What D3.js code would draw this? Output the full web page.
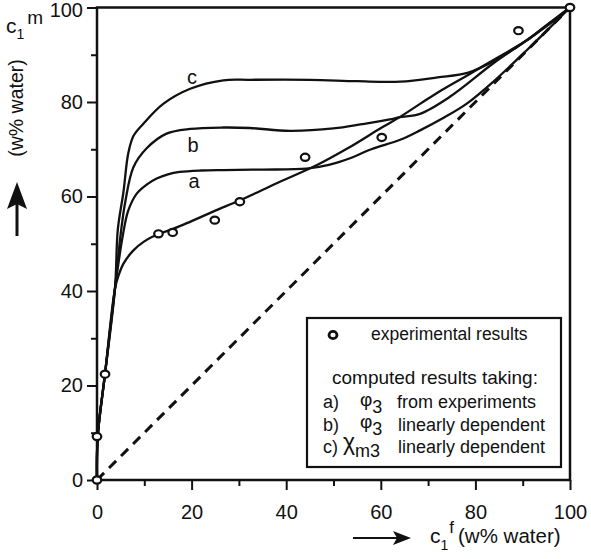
<!DOCTYPE html>
<html>
<head>
<meta charset="utf-8">
<script src="https://cdn.jsdelivr.net/npm/d3@7"></script>
<style>
  html, body { margin: 0; padding: 0; background: #fff; }
  svg { display: block; font-family: "Liberation Sans", Arial, Helvetica, sans-serif; }
</style>
</head>
<body>
<svg id="chart" width="591" height="559"></svg>
<script>
// Experimental points: water content in feed (x) vs membrane (y), w% water
const expX = [0, 0, 1.7, 13.0, 16.0, 24.9, 30.2, 44.0, 60.2, 89.1, 100];
const expY = [0, 9.2, 22.4, 52.1, 52.4, 55.0, 58.9, 68.3, 72.5, 95.1, 100];

// Curve drawn through the experimental results
const fitX = [0, 0.15, 1.7, 3.8, 4.6, 5.6, 7.7, 10, 12.6, 16, 20, 25, 30.2, 38, 46.4, 53, 60.2, 64, 68.3, 73, 78.9, 85, 90.8, 95, 100];
const fitY = [0, 9.2, 22.5, 40.5, 43.4, 45.8, 48.6, 50.5, 51.9, 53.1, 54.8, 57, 59.2, 62.8, 66.6, 70.2, 74.6, 76.8, 79.6, 82.6, 86, 89.6, 93, 96.2, 100];

// a) phi3 from experiments
const aX = [0, 0.15, 1.7, 3.8, 5.5, 6.6, 8.4, 10.5, 12.6, 15, 17.5, 22, 26.7, 35, 44.3, 49, 53.5, 58, 64.1, 68.3, 73, 78.1, 84, 90.8, 95, 100];
const aY = [0, 9.2, 22.5, 40.5, 52, 57, 60.6, 62.5, 63.8, 64.7, 65.2, 65.5, 65.6, 65.7, 65.9, 66.7, 68.1, 70, 72, 74, 76.5, 79.6, 84.5, 90.9, 95, 100];

// b) phi3 linearly dependent
const bX = [0, 0.15, 1.7, 3.8, 5, 6, 7.7, 10.5, 14.7, 19.7, 26.7, 32.3, 40.8, 50, 56, 61.9, 64, 68.3, 74.6, 83.8, 90, 95, 100];
const bY = [0, 9.2, 22.5, 40.5, 52, 59, 66.2, 70.2, 73.3, 74.3, 74.6, 74.5, 73.9, 74.4, 75.3, 76.3, 76.8, 77.5, 81.1, 88.2, 92.5, 96, 100];

// c) chi_m3 linearly dependent
const cX = [0, 0.15, 1.7, 3.8, 4.4, 5.6, 6.6, 7.7, 9.8, 14, 19.7, 26.7, 32.3, 45, 55, 64.1, 72, 78.5, 85, 90.8, 95, 100];
const cY = [0, 9.2, 22.5, 40.5, 53, 61, 69.1, 72.8, 75.4, 79.6, 82.8, 84.6, 84.7, 84.7, 84.4, 84.3, 85.2, 86.2, 89.3, 93, 96.2, 100];

// Axis ticks
const majorTicks = [0, 20, 40, 60, 80, 100];
const minorTicks = [10, 30, 50, 70, 90];

// Curve labels
const curveLabels = ["a", "b", "c"];
const labelX = [20.5, 20.3, 20.1];
const labelY = [61.8, 69.4, 83.8];

const svg = d3.select("#chart");
const x = d3.scaleLinear().domain([0, 100]).range([97, 570]);
const y = d3.scaleLinear().domain([0, 100]).range([480, 7.5]);

const ink = "#111";

// Axes
const gx = svg.append("g").attr("transform", `translate(0,${y(0)})`)
  .call(d3.axisBottom(x).tickValues(majorTicks).tickSize(10).tickPadding(15).tickFormat(d3.format("d")));
const gxm = svg.append("g").attr("transform", `translate(0,${y(0)})`)
  .call(d3.axisBottom(x).tickValues(minorTicks).tickSize(6).tickFormat(""));
const gy = svg.append("g").attr("transform", `translate(${x(0)},0)`)
  .call(d3.axisLeft(y).tickValues(majorTicks).tickSize(10).tickPadding(4).tickFormat(d3.format("d")));
const gym = svg.append("g").attr("transform", `translate(${x(0)},0)`)
  .call(d3.axisLeft(y).tickValues(minorTicks).tickSize(6).tickFormat(""));

[gx, gxm, gy, gym].forEach(g => {
  g.select(".domain").remove();
  g.selectAll("line").attr("stroke", ink).attr("stroke-width", 2);
  g.selectAll("text").attr("fill", ink).attr("font-size", 20)
    .attr("font-family", "'Liberation Sans', Arial, sans-serif");
});
// keep the top label inside the page
gy.selectAll(".tick").filter(d => d === 100).select("text").attr("dy", "0.45em");

// Frame
svg.append("rect")
  .attr("x", x(0)).attr("y", y(100))
  .attr("width", x(100) - x(0)).attr("height", y(0) - y(100))
  .attr("fill", "none").attr("stroke", ink).attr("stroke-width", 2.5);

// Diagonal reference line
svg.append("line")
  .attr("x1", x(0)).attr("y1", y(0)).attr("x2", x(100)).attr("y2", y(100))
  .attr("stroke", ink).attr("stroke-width", 3).attr("stroke-dasharray", "10,7");

// Curves
const line = d3.line().x(d => x(d[0])).y(d => y(d[1])).curve(d3.curveCatmullRom.alpha(0.5));
const series = [
  [fitX, fitY], [aX, aY], [bX, bY], [cX, cY]
];
series.forEach(([xs, ys]) => {
  svg.append("path")
    .datum(xs.map((v, i) => [v, ys[i]]))
    .attr("d", line)
    .attr("fill", "none").attr("stroke", ink).attr("stroke-width", 2.3)
    .attr("stroke-linejoin", "round");
});

// Curve labels
curveLabels.forEach((t, i) => {
  svg.append("text").attr("x", x(labelX[i])).attr("y", y(labelY[i]))
    .attr("text-anchor", "middle").attr("font-size", 20).attr("fill", ink).text(t);
});

// Experimental points
svg.append("g").selectAll("ellipse")
  .data(expX.map((v, i) => [v, expY[i]]))
  .join("ellipse")
  .attr("cx", d => x(d[0])).attr("cy", d => y(d[1]))
  .attr("rx", 4.3).attr("ry", 3.6)
  .attr("fill", "#fff").attr("stroke", ink).attr("stroke-width", 2.2);

// Legend
const lg = svg.append("g");
lg.append("rect").attr("x", 307).attr("y", 318).attr("width", 254).attr("height", 149)
  .attr("fill", "#fff").attr("stroke", ink).attr("stroke-width", 2.2);
lg.append("ellipse").attr("cx", 333).attr("cy", 335).attr("rx", 4).attr("ry", 3.6)
  .attr("fill", "#fff").attr("stroke", ink).attr("stroke-width", 2.8);
const lt = (xp, yp, s, fs) => lg.append("text").attr("x", xp).attr("y", yp)
  .attr("font-size", fs || 18).attr("fill", ink).text(s);
lt(371, 340, "experimental results", 17.5);
lt(332, 384, "computed results taking:", 19);
lt(323, 408, "a)");
lt(323, 431, "b)");
lt(323, 453, "c)");
const greek = (xp, yp, g, sub, fs) => {
  const t = lg.append("text").attr("x", xp).attr("y", yp).attr("font-size", fs).attr("fill", ink);
  t.append("tspan").text(g);
  t.append("tspan").attr("dy", 7).attr("font-size", 18).text(sub);
};
greek(360, 406, "φ", "3", 19);
greek(360, 428, "φ", "3", 19);
greek(343, 450, "χ", "m3", 23);
lt(397, 408, "from experiments");
lt(398, 431, "linearly dependent");
lt(398, 453, "linearly dependent");

// Y axis title: c1^m, (w% water), upward arrow
const yt = svg.append("text").attr("x", 6).attr("y", 33).attr("font-size", 21).attr("fill", ink);
yt.append("tspan").text("c");
yt.append("tspan").attr("dy", 6).attr("font-size", 14).text("1");
yt.append("tspan").attr("dx", 3).attr("dy", -15).attr("font-size", 19).text("m");
svg.append("text").attr("transform", "translate(23,108) rotate(-90)")
  .attr("text-anchor", "middle").attr("font-size", 19.5).attr("fill", ink).text("(w% water)");
svg.append("line").attr("x1", 17).attr("y1", 204).attr("x2", 17).attr("y2", 236)
  .attr("stroke", ink).attr("stroke-width", 3);
svg.append("path").attr("d", "M17,182 L27,209 L17,204 L7,209 Z").attr("fill", ink);

// X axis title: arrow, c1^f (w% water)
svg.append("line").attr("x1", 353).attr("y1", 538).attr("x2", 400).attr("y2", 538)
  .attr("stroke", ink).attr("stroke-width", 2.2);
svg.append("path").attr("d", "M411,538 L393,531 L397,538 L393,545 Z").attr("fill", ink);
const xt = svg.append("text").attr("x", 430).attr("y", 543).attr("font-size", 21).attr("fill", ink);
xt.append("tspan").text("c");
xt.append("tspan").attr("dy", 7).attr("font-size", 14).text("1");
xt.append("tspan").attr("dx", 1).attr("dy", -17).attr("font-size", 17).text("f");
xt.append("tspan").attr("dx", 4).attr("dy", 10).attr("font-size", 20.5).text("(w% water)");
</script>
</body>
</html>
